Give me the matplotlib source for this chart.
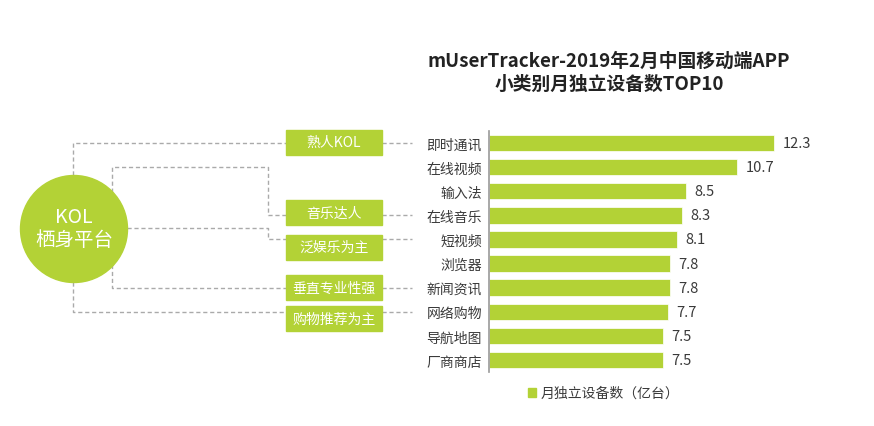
import matplotlib
matplotlib.use("Agg")
import matplotlib.pyplot as plt
from matplotlib.patches import Circle, Rectangle

plt.rcParams['font.family'] = ['Noto Sans CJK SC', 'DejaVu Sans']

# data
categories = ["即时通讯", "在线视频", "输入法", "在线音乐", "短视频",
              "浏览器", "新闻资讯", "网络购物", "导航地图", "厂商商店"]
values = [12.3, 10.7, 8.5, 8.3, 8.1, 7.8, 7.8, 7.7, 7.5, 7.5]
kol_types = ["熟人KOL", "音乐达人", "泛娱乐为主", "垂直专业性强", "购物推荐为主"]
# which bar each KOL box points at
kol_targets = ["即时通讯", "在线音乐", "短视频", "新闻资讯", "网络购物"]

green = "#b3d236"
gray_line = "#aaaaaa"
text_col = "#3a3a3a"

W, H = 874, 427
fig = plt.figure(figsize=(W / 100, H / 100), dpi=100)

# ---- bar chart ----
ax = fig.add_axes([489 / W, 1 - 373 / H, (W - 489) / W, (373 - 132) / H])
ypos = list(range(len(categories)))
ax.barh(ypos, values, height=0.68, color=green, edgecolor="white", linewidth=0.5)
ax.set_ylim(len(categories) - 0.5, -0.5)
ax.set_xlim(0, (W - 489) / 23.2)
ax.set_yticks(ypos)
ax.set_yticklabels(categories, fontsize=10, color=text_col)
ax.tick_params(axis="y", length=0, pad=5)
ax.set_xticks([])
for s in ["top", "right", "bottom"]:
    ax.spines[s].set_visible(False)
ax.spines["left"].set_color("#999999")
ax.spines["left"].set_linewidth(1.2)
ax.patch.set_alpha(0)
for y, v in zip(ypos, values):
    ax.annotate(f"{v}", (v, y), xytext=(6, 0), textcoords="offset points",
                va="center", ha="left", fontsize=10.5, color=text_col)

# ---- overlay in pixel coords for title, legend and diagram ----
ov = fig.add_axes([0, 0, 1, 1], zorder=-1)
ov.set_xlim(0, W)
ov.set_ylim(H, 0)
ov.axis("off")

ov.text(609, 61, "mUserTracker-2019年2月中国移动端APP", ha="center", va="center",
        fontsize=13.5, color="#222222", fontweight="bold")
ov.text(609, 84, "小类别月独立设备数TOP10", ha="center", va="center",
        fontsize=13.5, color="#222222", fontweight="bold")

# legend
ov.add_patch(Rectangle((528, 389), 8, 9, color=green))
ov.text(541, 394, "月独立设备数（亿台）", ha="left", va="center", fontsize=10, color=text_col)

# boxes
bar_y = {c: 144 + i * 24.1 for i, c in enumerate(categories)}
box_cy = [143, 213.5, 248, 288.5, 319.5]
line_y = [bar_y[t] for t in kol_targets]
dash = dict(color=gray_line, lw=1, ls=(0, (3, 2)))

for name, cy, ly in zip(kol_types, box_cy, line_y):
    ov.add_patch(Rectangle((286, cy - 12.5), 96, 25, color=green, zorder=3))
    ov.text(334, cy, name, ha="center", va="center", fontsize=10, color="white", zorder=4)
    ov.plot([382, 412], [ly, ly], **dash)

# connectors from circle to boxes
ov.plot([73, 73, 286], [176, line_y[0], line_y[0]], **dash)
ov.plot([73, 73, 286], [283, line_y[4], line_y[4]], **dash)
ov.plot([286, 268, 268, 112, 112, 286],
        [line_y[1], line_y[1], 168, 168, line_y[3], line_y[3]], **dash)
ov.plot([127, 268, 268, 286], [229, 229, line_y[2], line_y[2]], **dash)

# circle
ov.add_patch(Circle((74, 230), 53.5, color=green, zorder=5))
ov.text(74, 218, "KOL", ha="center", va="center", fontsize=14, color="white", zorder=6)
ov.text(74, 241, "栖身平台", ha="center", va="center", fontsize=14, color="white", zorder=6)

fig.savefig("out.png", dpi=100)
